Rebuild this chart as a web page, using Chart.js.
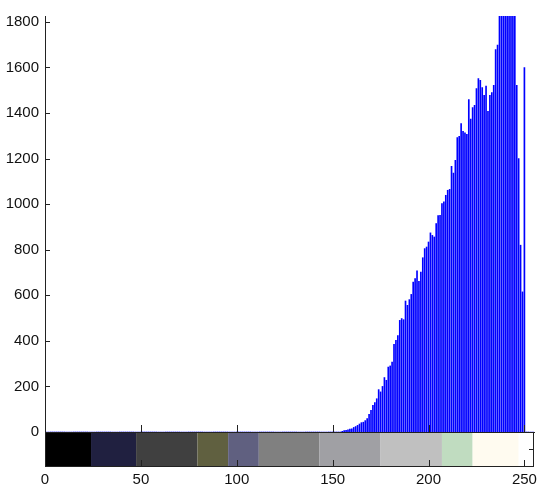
<!DOCTYPE html>
<html>
<head>
<meta charset="utf-8">
<script src="https://cdn.jsdelivr.net/npm/chart.js@4"></script>
<style>
  html, body { margin: 0; padding: 0; background: #fff; }
  #hist { display: block; }
</style>
</head>
<body>
<canvas id="hist" width="537" height="487"></canvas>
<script>
// histogram counts, bins 0..255 (all zero outside startBin..endBin)
const startBin = 155;
const counts = [
  3, 6, 7, 9, 13, 14, 20, 24, 29, 35,            // 155-164
  41, 43, 50, 59, 78, 95, 117, 129, 146, 186,     // 165-174
  176, 200, 239, 227, 285, 290, 307, 385, 402, 423, // 175-184
  490, 498, 493, 575, 556, 581, 604, 658, 673, 707, // 185-194
  661, 702, 765, 805, 812, 834, 874, 863, 856, 915, // 195-204
  950, 951, 1003, 1010, 1039, 1061, 1065, 1166, 1137, 1193, // 205-214
  1292, 1298, 1354, 1320, 1313, 1307, 1459, 1373, 1424, 1434, // 215-224
  1507, 1551, 1544, 1512, 1478, 1518, 1408, 1478, 1490, 1522, // 225-234
  1679, 1698, 1950, 2120, 2380, 2610, 2490, 2240, 2060, 1910, // 235-244
  1870, 1522, 1200, 820, 615, 1600                  // 245-250
];
const xTickValues = [0, 50, 100, 150, 200, 250];
const yTickValues = [0, 200, 400, 600, 800, 1000, 1200, 1400, 1600, 1800];
const yMax = 1826;

// colormap strip under the axis
const colorbarStops = [0, 24, 47.5, 79.5, 95.5, 111.5, 143, 175, 207, 223, 247, 255];
const colorbarColors = [
  "#000000", "#202040", "#404040", "#606040", "#606080", "#808080",
  "#a0a0a4", "#c0c0c0", "#c0dcc0", "#fffbf0", "#ffffff"
];

const bins = [];
const values = [];
for (let i = 0; i < 256; i++) {
  bins.push(i);
  const k = i - startBin;
  values.push(k >= 0 && k < counts.length ? counts[k] : 0);
}

const fontSpec = { family: "'Liberation Sans Narrow', 'Liberation Sans', Arial, sans-serif", size: 15 };
const lineColor = "#222";

const matlabAxes = {
  id: "matlabAxes",
  afterDraw(chart) {
    const { ctx, chartArea: a, scales } = chart;
    const x = scales.x, y = scales.y;
    const barTop = a.bottom, barBottom = a.bottom + 34;

    ctx.save();
    for (let i = 0; i < colorbarColors.length; i++) {
      const x0 = x.getPixelForValue(colorbarStops[i]);
      const x1 = x.getPixelForValue(colorbarStops[i + 1]);
      ctx.fillStyle = colorbarColors[i];
      ctx.fillRect(x0, barTop, x1 - x0, barBottom - barTop);
    }
    ctx.strokeStyle = lineColor;
    ctx.lineWidth = 1;
    ctx.strokeRect(a.left + 0.5, barTop + 0.5, a.right - a.left - 1, barBottom - barTop);

    // ticks point inward, like the original plot
    ctx.beginPath();
    xTickValues.forEach((v) => {
      const px = Math.round(x.getPixelForValue(v)) + 0.5;
      ctx.moveTo(px, barTop);
      ctx.lineTo(px, barTop - 7);
      ctx.moveTo(px, barBottom);
      ctx.lineTo(px, barBottom - 6);
    });
    yTickValues.forEach((v) => {
      const py = Math.round(y.getPixelForValue(v)) + 0.5;
      ctx.moveTo(a.left, py);
      ctx.lineTo(a.left + 5, py);
    });
    const midBar = Math.round((barTop + barBottom) / 2) + 0.5;
    ctx.moveTo(a.right, midBar);
    ctx.lineTo(a.right - 5, midBar);
    ctx.stroke();
    ctx.restore();
  }
};

new Chart(document.getElementById("hist"), {
  type: "bar",
  data: {
    labels: bins,
    datasets: [{
      data: values,
      backgroundColor: "#0000ff",
      borderWidth: 0,
      barThickness: 1
    }]
  },
  options: {
    responsive: false,
    animation: false,
    layout: { autoPadding: false, padding: { top: 16, right: 3, left: 0, bottom: 0 } },
    plugins: {
      legend: { display: false },
      tooltip: { enabled: false }
    },
    scales: {
      x: {
        offset: false,
        grid: { display: false, drawTicks: false },
        border: { display: true, color: lineColor },
        ticks: {
          autoSkip: false,
          maxRotation: 0,
          padding: 39,
          color: "#111",
          font: fontSpec,
          callback: (val, i) => (xTickValues.includes(i) ? String(i) : null)
        },
        afterFit: (scale) => {
          scale.height = 55;
          scale.paddingLeft = 0;
          scale.paddingRight = 0;
        }
      },
      y: {
        min: 0,
        max: yMax,
        grid: { display: false, drawTicks: false },
        border: { display: true, color: lineColor },
        afterBuildTicks: (scale) => {
          scale.ticks = yTickValues.map((v) => ({ value: v }));
        },
        ticks: {
          autoSkip: false,
          padding: 6,
          color: "#111",
          font: fontSpec,
          callback: (val) => String(val)
        },
        afterFit: (scale) => { scale.width = 45; }
      }
    }
  },
  plugins: [matlabAxes]
});
</script>
</body>
</html>
